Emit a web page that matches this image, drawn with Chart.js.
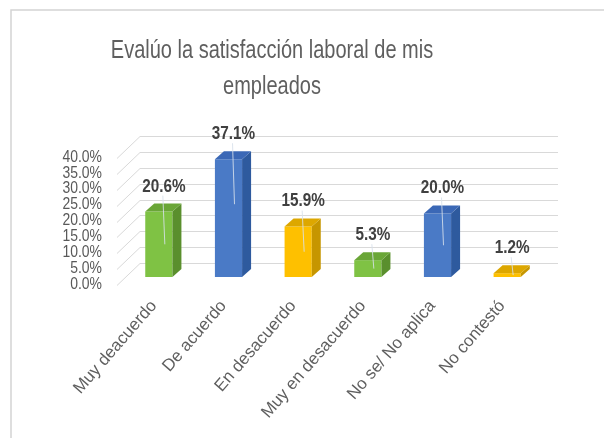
<!DOCTYPE html>
<html>
<head>
<meta charset="utf-8">
<script src="https://cdn.jsdelivr.net/npm/chart.js@4.4.1/dist/chart.umd.min.js"></script>
<style>
  html, body { margin: 0; padding: 0; background: #fff; }
  canvas { display: block; }
</style>
</head>
<body>
<canvas id="satisfaccion" width="604" height="438"></canvas>
<script>
// respuestas de la encuesta
const categorias = ["Muy deacuerdo", "De acuerdo", "En desacuerdo", "Muy en desacuerdo", "No se/ No aplica", "No contestó"];
const porcentajes = [20.6, 37.1, 15.9, 5.3, 20.0, 1.2];
const ticksY = [0, 5, 10, 15, 20, 25, 30, 35, 40];
const titulo = ["Evalúo la satisfacción laboral de mis", "empleados"];

// colores de cada cara: frente, lado, tapa
const verde = ["#7fc244", "#5a8f2d", "#6aa637"];
const azul = ["#4a7ac6", "#2e5a9e", "#3b68b6"];
const amarillo = ["#fec000", "#c69600", "#dda700"];
const paleta = [verde, azul, amarillo, verde, azul, amarillo];

const FUENTE = "'Liberation Sans', Arial, sans-serif";
const PROF_X = 9, PROF_Y = 8;     // profundidad de las barras
const FONDO_DY = 14;              // pared del fondo respecto al frente de las barras
const PARED_X = 23, PARED_Y = 22; // diagonales de la pared izquierda

// texto estrechado horizontalmente (sx < 1)
function texto(ctx, str, x, y, font, color, align, sx) {
  ctx.save();
  ctx.translate(x, y);
  ctx.scale(sx, 1);
  ctx.font = font;
  ctx.fillStyle = color;
  ctx.textAlign = align;
  ctx.textBaseline = "middle";
  ctx.fillText(str, 0, 0);
  ctx.restore();
}

const marco = {
  id: "marco",
  beforeDraw(chart) {
    const ctx = chart.ctx;
    ctx.save();
    ctx.fillStyle = "#fff";
    ctx.fillRect(0, 0, chart.width, chart.height);
    ctx.strokeStyle = "#d4d4d4";
    ctx.lineWidth = 1.5;
    ctx.beginPath();
    ctx.moveTo(11, chart.height);
    ctx.lineTo(11, 10);
    ctx.lineTo(chart.width, 10);
    ctx.stroke();
    ctx.restore();

    texto(ctx, titulo[0], 272, 51, "25px " + FUENTE, "#5f5f5f", "center", 0.8);
    texto(ctx, titulo[1], 272, 87, "25px " + FUENTE, "#5f5f5f", "center", 0.8);
  },
  beforeDatasetsDraw(chart) {
    const ctx = chart.ctx;
    const y = chart.scales.y;
    const xIzq = 140, xDer = 558;
    ctx.save();
    ctx.strokeStyle = "#d9d9d9";
    ctx.lineWidth = 1;
    ticksY.forEach(v => {
      const yf = Math.round(y.getPixelForValue(v) - FONDO_DY) + 0.5;
      ctx.beginPath();
      ctx.moveTo(xIzq - PARED_X, yf + PARED_Y);
      ctx.lineTo(xIzq, yf);
      ctx.lineTo(xDer, yf);
      ctx.stroke();
    });
    ctx.restore();

    // etiquetas del eje vertical
    ticksY.forEach(v => {
      texto(ctx, v.toFixed(1) + "%", 102, y.getPixelForValue(v) + 7, "17px " + FUENTE, "#595959", "right", 0.82);
    });
  },
  afterDatasetsDraw(chart) {
    const ctx = chart.ctx;
    const meta = chart.getDatasetMeta(0);
    meta.data.forEach((bar, i) => {
      const c = paleta[i];
      const izq = bar.x - bar.width / 2, der = bar.x + bar.width / 2;
      const arriba = bar.y, abajo = bar.base;
      ctx.save();

      // lado derecho
      ctx.fillStyle = c[1];
      ctx.beginPath();
      ctx.moveTo(der, arriba);
      ctx.lineTo(der + PROF_X, arriba - PROF_Y);
      ctx.lineTo(der + PROF_X, abajo - PROF_Y);
      ctx.lineTo(der, abajo);
      ctx.closePath();
      ctx.fill();

      // tapa
      ctx.fillStyle = c[2];
      ctx.beginPath();
      ctx.moveTo(izq, arriba);
      ctx.lineTo(izq + PROF_X, arriba - PROF_Y);
      ctx.lineTo(der + PROF_X, arriba - PROF_Y);
      ctx.lineTo(der, arriba);
      ctx.closePath();
      ctx.fill();

      // linea guia hacia la etiqueta
      const lx = bar.x + 5, ly = bar.y - 25;
      ctx.strokeStyle = "rgba(215,225,235,0.85)";
      ctx.lineWidth = 1;
      ctx.beginPath();
      ctx.moveTo(lx - 1, ly + 9);
      ctx.lineTo(bar.x + 6, bar.y + Math.min(45, (abajo - arriba) / 2));
      ctx.stroke();
      ctx.restore();

      // valor
      texto(ctx, porcentajes[i].toFixed(1) + "%", lx, ly, "bold 18px " + FUENTE, "#404040", "center", 0.85);

      // categoria inclinada
      ctx.save();
      ctx.translate(bar.x - 5, 303);
      ctx.rotate(-49 * Math.PI / 180);
      ctx.fillStyle = "#5f5f5f";
      ctx.font = "17px " + FUENTE;
      ctx.textAlign = "right";
      ctx.textBaseline = "middle";
      ctx.fillText(categorias[i], 0, 0);
      ctx.restore();
    });
  }
};

new Chart(document.getElementById("satisfaccion"), {
  type: "bar",
  data: {
    labels: categorias,
    datasets: [{
      data: porcentajes,
      backgroundColor: paleta.map(c => c[0]),
      borderWidth: 0,
      categoryPercentage: 1,
      barPercentage: 0.39,
    }],
  },
  options: {
    responsive: false,
    animation: false,
    layout: { padding: { left: 124, right: 62, top: 150, bottom: 161 } },
    scales: {
      x: { display: false },
      y: { display: false, min: 0, max: 40 },
    },
    plugins: {
      legend: { display: false },
      tooltip: { enabled: false },
    },
  },
  plugins: [marco],
});
</script>
</body>
</html>
